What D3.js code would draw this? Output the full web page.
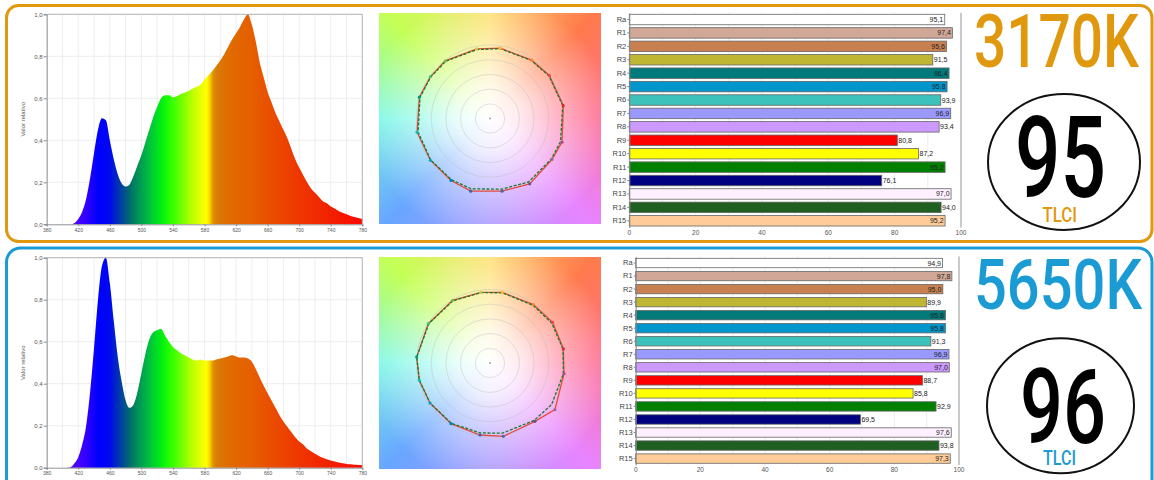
<!DOCTYPE html>
<html>
<head>
<meta charset="utf-8">
<script src="https://cdn.jsdelivr.net/npm/d3@7"></script>
<style>
  body { margin: 0; background: #fff; }
  #wrap { position: relative; width: 1154px; height: 480px; overflow: hidden; font-family: "Liberation Sans", Arial, sans-serif; }
  #wrap svg { position: absolute; left: 0; top: 0; }
</style>
</head>
<body>
<div id="wrap"></div>
<script>
// spectrum data (relative power), 5 nm steps
var wavelengths = [400,405,410,415,420,425,430,435,440,445,450,455,460,465,470,475,480,485,490,495,
  500,505,510,515,520,525,530,535,540,545,550,555,560,565,570,575,580,585,590,595,
  600,605,610,615,620,625,630,635,640,645,650,655,660,665,670,675,680,685,690,695,
  700,705,710,715,720,725,730,735,740,745,750,755,760,765,770,775,780]

var spec3170 = [0,0,0,0.005,0.025,0.06,0.12,0.22,0.34,0.45,0.505,0.495,0.40,0.31,0.24,0.195,0.18,0.19,0.23,0.28,
  0.33,0.39,0.45,0.51,0.56,0.60,0.615,0.615,0.605,0.61,0.62,0.628,0.635,0.645,0.655,0.665,0.69,0.71,0.73,0.755,
  0.78,0.81,0.845,0.88,0.91,0.94,0.975,1.0,0.95,0.87,0.77,0.70,0.63,0.58,0.53,0.49,0.45,0.41,0.36,0.31,
  0.27,0.235,0.20,0.17,0.15,0.13,0.11,0.10,0.085,0.075,0.063,0.055,0.048,0.04,0.035,0.03,0.025]

var spec5650 = [0,0,0.002,0.02,0.05,0.11,0.20,0.36,0.57,0.80,0.96,1.0,0.88,0.70,0.53,0.41,0.32,0.285,0.30,0.36,
  0.45,0.54,0.61,0.645,0.655,0.66,0.63,0.60,0.575,0.56,0.545,0.535,0.525,0.515,0.51,0.515,0.51,0.51,0.51,0.515,
  0.52,0.525,0.53,0.535,0.53,0.525,0.525,0.52,0.505,0.47,0.43,0.39,0.355,0.32,0.285,0.25,0.22,0.195,0.17,0.145,
  0.125,0.11,0.09,0.078,0.066,0.056,0.047,0.04,0.034,0.029,0.025,0.021,0.018,0.016,0.014,0.013,0.012]

var specXTicks = [380,420,460,500,540,580,620,660,700,740,780]
var specYTicks = [0,0.2,0.4,0.6,0.8,1.0]

// colour rendition vector graphic: 16 hue bins (angle deg, relative radius)
var hueBinColors = ["#e62828","#e74b4b","#fb812e","#ffb529","#cbca46","#7eb94c","#41c06d","#009c7c",
  "#16bcb0","#00a4bf","#0085c3","#3b62aa","#4568ae","#6a4e85","#9d69a1","#a74f81"]
var test3170Angle = [10,36,54.5,81.6,100.8,127.8,145,163.2,190.6,215,237.8,255.1,279.4,301.3,326.5,341.8]
var test3170Radius = [1.013,0.997,0.975,0.967,0.965,0.992,0.99,1.004,1.01,0.99,0.996,1.023,1.002,1.04,1.011,1.031]
var ref3170Angle = [10,36,54.5,81.6,100.8,127.8,145,163.2,190.6,215,237.8,255.1,279.4,301.3,326.5,341.8]
var ref3170Radius = [1.005,0.99,0.97,0.96,0.955,0.985,0.985,0.995,0.995,0.985,0.985,0.99,0.975,1.01,1.0,1.01]
var test5650Angle = [11,33,53.4,80.1,97.5,120.8,147.5,175.3,193.8,213.7,237.3,262.1,280.3,307.6,324.3,351.8]
var test5650Radius = [1.017,1.016,0.989,0.976,0.97,0.992,0.995,1.001,0.99,0.981,0.981,0.989,1.014,1.002,1.088,1.017]
var ref5650Angle = [11,33,53,80,97.5,121,147,175.3,193.8,214,237.5,262,280,307.5,326,351.8]
var ref5650Radius = [1.01,1.0,0.98,0.97,0.965,0.985,0.99,1.0,0.99,0.98,0.975,0.96,0.97,0.985,1.011,1.01]
var ringValues = [0.2,0.4,0.6,0.8,1.0]

// CRI bars
var criLabels = ["Ra","R1","R2","R3","R4","R5","R6","R7","R8","R9","R10","R11","R12","R13","R14","R15"]
var cri3170 = [95.1,97.4,95.6,91.5,96.4,95.8,93.9,96.9,93.4,80.8,87.2,95.2,76.1,97.0,94.0,95.2]
var cri5650 = [94.9,97.8,95.0,89.9,95.8,95.8,91.3,96.9,97.0,88.7,85.8,92.9,69.5,97.6,93.8,97.3]
var criColors = ["#ffffff","#d1a897","#c98050","#bfb733","#007a7a","#0096cc","#3cc2ba","#9999ff",
  "#cc99ff","#ff0000","#ffff00","#008000","#000080","#fff0ff","#1f5f22","#ffcc99"]
var criTicks = [0,20,40,60,80,100]
var criGrid = [10,20,30,40,50,60,70,80,90]

var cctLabels = ["3170K","5650K"]
var tlciValues = [95,96]

// colour stops for the spectrum fill
var rainbowStops = [[380,"#6400ff"],[410,"#5a00ff"],[430,"#3200ff"],[445,"#0000ff"],[460,"#0008f0"],[470,"#0030b4"],
  [478,"#004e90"],[486,"#00706a"],[495,"#008f58"],[505,"#00b048"],[515,"#00d030"],[525,"#00ee12"],[535,"#22ff00"],
  [548,"#62ff00"],[560,"#a2ff00"],[570,"#d2ff00"],[578,"#f0ff00"],[583,"#ffff00"],[587,"#f6d000"],[591,"#de9000"],
  [596,"#d87a08"],[610,"#e06c00"],[640,"#e65e00"],[670,"#ea4a00"],[700,"#ee3600"],[740,"#f22000"],[780,"#ff0800"]]

var W = 1154, H = 480
var wrap = d3.select("#wrap")

var panels = [
  {spec: spec3170, tAng: test3170Angle, tRad: test3170Radius, rAng: ref3170Angle, rRad: ref3170Radius, cri: cri3170,
   cct: cctLabels[0], tlci: tlciValues[0], color: "#e0980e",
   box: {y: 5.5, h: 236, rx: 12}, spec_y: [224.3, 14.3], cie: {x: 379, y: 13, w: 222, h: 211},
   bar: {x: [629.3, 961], y: [12.8, 227.5], pi: 0.22, po: 0.11, lab: 234.5},
   big: {y: 66.7, fs: 74, len: 165, x: 974}, ell: {cx: 1064, cy: 162, rx: 76, ry: 68},
   num: {x: 1015, y: 196.7, fs: 113, len: 91}, tl: {x: 1042.5, y: 221.7, fs: 21, len: 34.5}},
  {spec: spec5650, tAng: test5650Angle, tRad: test5650Radius, rAng: ref5650Angle, rRad: ref5650Radius, cri: cri5650,
   cct: cctLabels[1], tlci: tlciValues[1], color: "#1b9bd3",
   box: {y: 248, h: 260, rx: 14}, spec_y: [467.7, 257.7], cie: {x: 379, y: 257, w: 222, h: 212},
   bar: {x: [635.7, 959], y: [256.5, 465.1], pi: 0.28, po: 0.14, lab: 472},
   big: {y: 309.3, fs: 71, len: 168, x: 974}, ell: {cx: 1060.5, cy: 405.7, rx: 73.5, ry: 67.5},
   num: {x: 1020, y: 443.3, fs: 104, len: 86}, tl: {x: 1043, y: 465, fs: 21, len: 33}}
]

// CIE style backgrounds (html layer under the svg)
panels.forEach(p => {
  var c = p.cie
  wrap.append("div")
    .style("position", "absolute")
    .style("left", c.x + "px").style("top", c.y + "px")
    .style("width", c.w + "px").style("height", c.h + "px")
    .style("background",
      "radial-gradient(circle at 50% 50%, rgba(255,255,255,1) 0%, rgba(255,255,255,0.85) 20%, rgba(255,255,255,0.4) 50%, rgba(255,255,255,0) 80%)," +
      "conic-gradient(from 0deg at 50% 50%, #ffe070 0deg, #ff7a4c 45deg, #ff6f96 90deg, #e884ff 135deg, #ab98ff 180deg, #68a6ff 225deg, #7cf8e6 270deg, #c4ff56 315deg, #ffe070 360deg)")
})

var svg = wrap.append("svg").attr("width", W).attr("height", H)
var defs = svg.append("defs")

panels.forEach((p, i) => {
  // panel frame
  svg.append("rect")
    .attr("x", 6.5).attr("y", p.box.y).attr("width", 1145.5).attr("height", p.box.h)
    .attr("rx", p.box.rx)
    .attr("fill", "none").attr("stroke", p.color).attr("stroke-width", 3)

  // ---- spectrum ----
  var xSpec = d3.scaleLinear().domain([380, 780]).range([46.7, 362.3])
  var ySpec = d3.scaleLinear().domain([0, 1]).range(p.spec_y)
  var g = svg.append("g")

  g.selectAll("line.vg").data(d3.range(380, 781, 20)).enter().append("line")
    .attr("x1", d => xSpec(d)).attr("x2", d => xSpec(d))
    .attr("y1", ySpec(0)).attr("y2", ySpec(1))
    .attr("stroke", "#e6e6e6").attr("stroke-width", 0.7)
  g.selectAll("line.hg").data(specYTicks.slice(1)).enter().append("line")
    .attr("x1", xSpec(380)).attr("x2", xSpec(780))
    .attr("y1", d => ySpec(d)).attr("y2", d => ySpec(d))
    .attr("stroke", "#e6e6e6").attr("stroke-width", 0.7)

  var grad = defs.append("linearGradient").attr("id", "rainbow" + i)
    .attr("gradientUnits", "userSpaceOnUse")
    .attr("x1", xSpec(380)).attr("x2", xSpec(780)).attr("y1", 0).attr("y2", 0)
  grad.selectAll("stop").data(rainbowStops).enter().append("stop")
    .attr("offset", d => (d[0] - 380) / 400)
    .attr("stop-color", d => d[1])

  var area = d3.area()
    .x((d, k) => xSpec(wavelengths[k]))
    .y0(ySpec(0))
    .y1(d => ySpec(d))
    .curve(d3.curveMonotoneX)
  g.append("path").datum(p.spec).attr("d", area).attr("fill", "url(#rainbow" + i + ")")

  // frame top / right
  g.append("path")
    .attr("d", `M${xSpec(380)},${ySpec(1)}H${xSpec(780)}V${ySpec(0)}`)
    .attr("fill", "none").attr("stroke", "#a8a8a8").attr("stroke-width", 0.8)

  var yAx = g.append("g").attr("transform", `translate(${xSpec(380)},0)`)
    .call(d3.axisLeft(ySpec).tickValues(specYTicks).tickSize(3).tickFormat(d => d3.format(".1f")(d).replace(".", ",")))
  var xAx = g.append("g").attr("transform", `translate(0,${ySpec(0)})`)
    .call(d3.axisBottom(xSpec).tickValues(specXTicks).tickSize(2).tickFormat(d3.format("d")))
  ;[yAx, xAx].forEach(a => {
    a.select(".domain").attr("stroke", "#888").attr("stroke-width", 0.9)
    a.selectAll(".tick line").attr("stroke", "#888")
    a.selectAll("text").attr("fill", "#555").style("font-family", "Liberation Sans, Arial, sans-serif")
  })
  yAx.selectAll("text").style("font-size", "6px").attr("x", -4)
  xAx.selectAll("text").style("font-size", "5px").attr("y", 4)

  g.append("text")
    .attr("transform", `translate(25,${(ySpec(0) + ySpec(1)) / 2}) rotate(-90)`)
    .attr("text-anchor", "middle")
    .style("font-size", "6px").attr("fill", "#555")
    .text("Valor relativo")

  // ---- colour vector graphic ----
  var c = p.cie
  var cx = c.x + c.w / 2, cy = c.y + c.h / 2
  var rScale = d3.scaleLinear().domain([0, 1]).range([0, 73.5])
  var cg = svg.append("g").attr("transform", `translate(${cx},${cy})`)
  cg.selectAll("circle.ring").data(ringValues).enter().append("circle")
    .attr("r", d => rScale(d))
    .attr("fill", "none").attr("stroke", "#b9b9b9").attr("stroke-width", 0.5).attr("opacity", 0.8)
  cg.append("circle").attr("r", 0.9).attr("fill", "#999")

  var toXY = (a, r) => [rScale(r) * Math.cos(a * Math.PI / 180), -rScale(r) * Math.sin(a * Math.PI / 180)]
  var testPts = p.tAng.map((a, k) => toXY(a, p.tRad[k]))
  var refPts = p.rAng.map((a, k) => toXY(a, p.rRad[k]))
  var line = d3.line().curve(d3.curveLinearClosed)
  cg.append("path").attr("d", line(testPts))
    .attr("fill", "none").attr("stroke", "#e8493e").attr("stroke-width", 1.3)
  cg.append("path").attr("d", line(refPts))
    .attr("fill", "none").attr("stroke", "#1c7a2c").attr("stroke-width", 1.3).attr("stroke-dasharray", "3,1.6")
  cg.selectAll("circle.mk").data(testPts).enter().append("circle")
    .attr("cx", d => d[0]).attr("cy", d => d[1]).attr("r", 1.6)
    .attr("fill", (d, k) => hueBinColors[k])

  // ---- CRI bars ----
  var b = p.bar
  var xBar = d3.scaleLinear().domain([0, 100]).range(b.x)
  var yBar = d3.scaleBand().domain(criLabels).range(b.y).paddingInner(b.pi).paddingOuter(b.po)
  var bg = svg.append("g")
  bg.selectAll("line.grid").data(criGrid).enter().append("line")
    .attr("x1", d => xBar(d)).attr("x2", d => xBar(d))
    .attr("y1", b.y[0]).attr("y2", b.y[1])
    .attr("stroke", "#e2e2e2").attr("stroke-width", 0.7)
  bg.append("line")
    .attr("x1", xBar(100)).attr("x2", xBar(100)).attr("y1", b.y[0]).attr("y2", b.y[1])
    .attr("stroke", "#b4b4b4").attr("stroke-width", 1.4)

  bg.selectAll("rect.bar").data(p.cri).enter().append("rect")
    .attr("x", xBar(0)).attr("y", (d, k) => yBar(criLabels[k]))
    .attr("width", d => xBar(d) - xBar(0)).attr("height", yBar.bandwidth())
    .attr("fill", (d, k) => criColors[k])
    .attr("stroke", "#666").attr("stroke-width", 0.8)

  bg.selectAll("text.val").data(p.cri).enter().append("text")
    .attr("x", d => d > 94.5 ? xBar(d) - 1.5 : xBar(d) + 1)
    .attr("y", (d, k) => yBar(criLabels[k]) + yBar.bandwidth() / 2 + 2.5)
    .attr("text-anchor", d => d > 94.5 ? "end" : "start")
    .style("font-size", "7px").attr("fill", "#222")
    .text(d => d3.format(".1f")(d).replace(".", ","))

  var yBarAx = bg.append("g").attr("transform", `translate(${xBar(0)},0)`)
    .call(d3.axisLeft(yBar).tickSize(2).tickSizeOuter(0))
  yBarAx.select(".domain").attr("stroke", "#888")
  yBarAx.selectAll(".tick line").attr("stroke", "#888")
  yBarAx.selectAll("text").style("font-size", "7.5px").attr("fill", "#444")
    .style("font-family", "Liberation Sans, Arial, sans-serif").attr("x", -3)

  bg.selectAll("text.tk").data(criTicks).enter().append("text")
    .attr("x", d => xBar(d)).attr("y", b.lab)
    .attr("text-anchor", "middle")
    .style("font-size", "6.5px").attr("fill", "#555")
    .text(d => d)

  // ---- CCT / TLCI ----
  svg.append("text")
    .attr("x", p.big.x).attr("y", p.big.y)
    .attr("textLength", p.big.len).attr("lengthAdjust", "spacingAndGlyphs")
    .style("font-family", "Roboto, sans-serif").style("font-size", p.big.fs + "px").style("font-weight", 500)
    .attr("fill", p.color)
    .text(p.cct)
  svg.append("ellipse")
    .attr("cx", p.ell.cx).attr("cy", p.ell.cy).attr("rx", p.ell.rx).attr("ry", p.ell.ry)
    .attr("fill", "none").attr("stroke", "#111").attr("stroke-width", 2)
  svg.append("text")
    .attr("x", p.num.x).attr("y", p.num.y)
    .attr("textLength", p.num.len).attr("lengthAdjust", "spacingAndGlyphs")
    .style("font-family", "Roboto, sans-serif").style("font-size", p.num.fs + "px").style("font-weight", 500)
    .attr("fill", "#000")
    .text(p.tlci)
  svg.append("text")
    .attr("x", p.tl.x).attr("y", p.tl.y)
    .attr("textLength", p.tl.len).attr("lengthAdjust", "spacingAndGlyphs")
    .style("font-family", "Roboto, sans-serif").style("font-size", p.tl.fs + "px").style("font-weight", 500)
    .attr("fill", p.color)
    .text("TLCI")
})
</script>
</body>
</html>
